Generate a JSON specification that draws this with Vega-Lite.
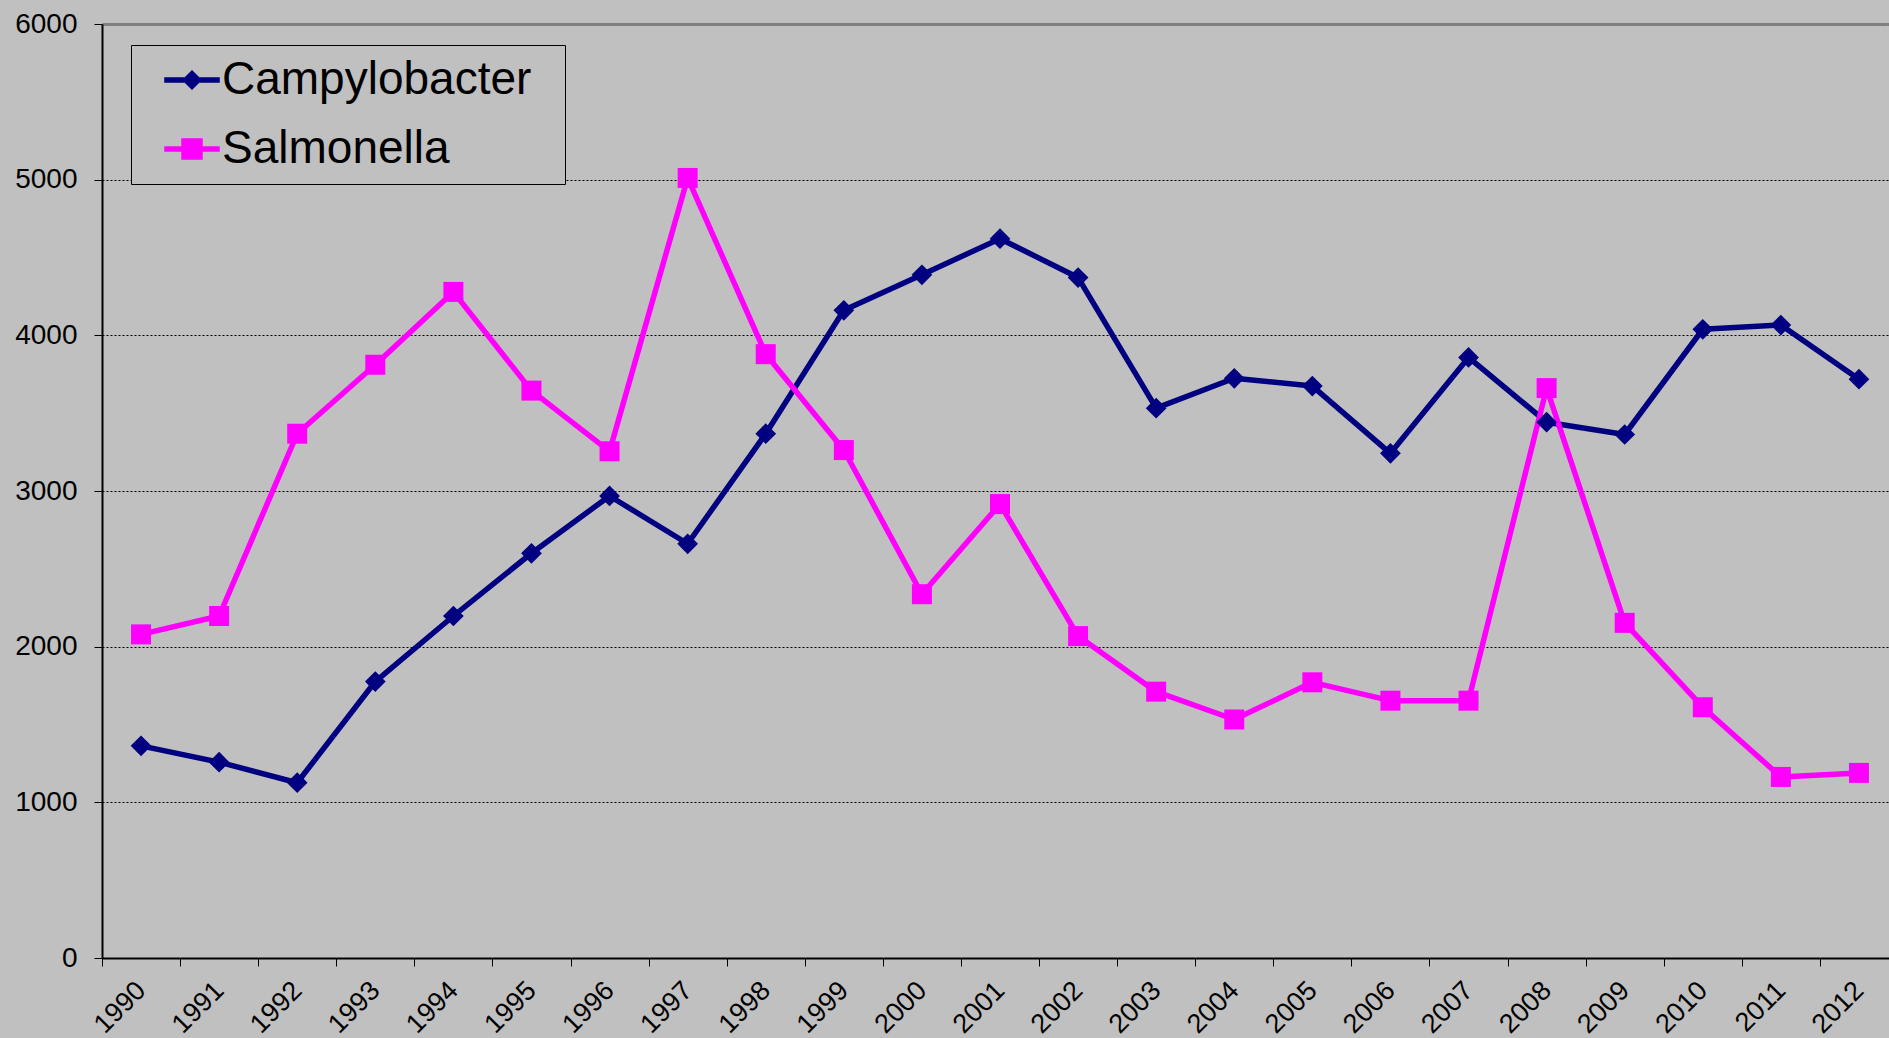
{
  "$schema": "https://vega.github.io/schema/vega-lite/v6.json",
  "width": 1787,
  "height": 934,
  "autosize": {"type": "none"},
  "padding": {"left": 102, "top": 24, "right": 0, "bottom": 80},
  "background": "#C0C0C0",
  "config": {"view": {"stroke": null, "fill": "#C0C0C0"}, "font": "Liberation Sans"},
  "data": {
    "values": [
      {"year": "1990", "series": "Campylobacter", "value": 1363},
      {"year": "1991", "series": "Campylobacter", "value": 1258},
      {"year": "1992", "series": "Campylobacter", "value": 1126},
      {"year": "1993", "series": "Campylobacter", "value": 1776},
      {"year": "1994", "series": "Campylobacter", "value": 2197},
      {"year": "1995", "series": "Campylobacter", "value": 2600},
      {"year": "1996", "series": "Campylobacter", "value": 2968},
      {"year": "1997", "series": "Campylobacter", "value": 2661},
      {"year": "1998", "series": "Campylobacter", "value": 3368},
      {"year": "1999", "series": "Campylobacter", "value": 4161},
      {"year": "2000", "series": "Campylobacter", "value": 4389},
      {"year": "2001", "series": "Campylobacter", "value": 4621},
      {"year": "2002", "series": "Campylobacter", "value": 4371},
      {"year": "2003", "series": "Campylobacter", "value": 3532},
      {"year": "2004", "series": "Campylobacter", "value": 3724},
      {"year": "2005", "series": "Campylobacter", "value": 3674},
      {"year": "2006", "series": "Campylobacter", "value": 3242},
      {"year": "2007", "series": "Campylobacter", "value": 3858},
      {"year": "2008", "series": "Campylobacter", "value": 3442},
      {"year": "2009", "series": "Campylobacter", "value": 3363},
      {"year": "2010", "series": "Campylobacter", "value": 4039},
      {"year": "2011", "series": "Campylobacter", "value": 4066},
      {"year": "2012", "series": "Campylobacter", "value": 3718},
      {"year": "1990", "series": "Salmonella", "value": 2079},
      {"year": "1991", "series": "Salmonella", "value": 2197},
      {"year": "1992", "series": "Salmonella", "value": 3368},
      {"year": "1993", "series": "Salmonella", "value": 3811},
      {"year": "1994", "series": "Salmonella", "value": 4279},
      {"year": "1995", "series": "Salmonella", "value": 3645},
      {"year": "1996", "series": "Salmonella", "value": 3255},
      {"year": "1997", "series": "Salmonella", "value": 5011},
      {"year": "1998", "series": "Salmonella", "value": 3879},
      {"year": "1999", "series": "Salmonella", "value": 3263},
      {"year": "2000", "series": "Salmonella", "value": 2337},
      {"year": "2001", "series": "Salmonella", "value": 2916},
      {"year": "2002", "series": "Salmonella", "value": 2068},
      {"year": "2003", "series": "Salmonella", "value": 1711},
      {"year": "2004", "series": "Salmonella", "value": 1532},
      {"year": "2005", "series": "Salmonella", "value": 1771},
      {"year": "2006", "series": "Salmonella", "value": 1653},
      {"year": "2007", "series": "Salmonella", "value": 1653},
      {"year": "2008", "series": "Salmonella", "value": 3661},
      {"year": "2009", "series": "Salmonella", "value": 2153},
      {"year": "2010", "series": "Salmonella", "value": 1611},
      {"year": "2011", "series": "Salmonella", "value": 1163},
      {"year": "2012", "series": "Salmonella", "value": 1189}
    ]
  },
  "encoding": {
    "x": {
      "field": "year",
      "type": "ordinal",
      "bandPosition": 0.5,
      "scale": {"type": "band", "paddingInner": 0, "paddingOuter": 0, "range": [0, 1796]},
      "axis": {
        "title": null,
        "tickBand": "extent",
        "domainColor": "#000000",
        "domainWidth": 2,
        "tickColor": "#000000",
        "tickSize": 8,
        "tickWidth": 1,
        "labelAngle": -45,
        "labelAlign": "right",
        "labelBaseline": "middle",
        "labelPadding": 20,
        "labelFont": "Liberation Sans",
        "labelFontSize": 27,
        "labelColor": "#000000",
        "labelOverlap": false,
        "grid": false
      }
    },
    "y": {
      "field": "value",
      "type": "quantitative",
      "scale": {"domain": [0, 6000], "nice": false},
      "axis": {
        "title": null,
        "format": "d",
        "values": [0, 1000, 2000, 3000, 4000, 5000, 6000],
        "domainColor": "#000000",
        "domainWidth": 2,
        "tickColor": "#000000",
        "tickSize": 8,
        "tickWidth": 1,
        "labelPadding": 17,
        "labelFont": "Liberation Sans",
        "labelFontSize": 28,
        "labelColor": "#000000",
        "grid": true,
        "gridColor": {"condition": {"test": "datum.value === 6000", "value": "#808080"}, "value": "#000000"},
        "gridWidth": {"condition": {"test": "datum.value === 6000", "value": 3}, "value": 1},
        "gridDash": {"condition": {"test": "datum.value === 6000", "value": [1, 0]}, "value": [2, 2]}
      }
    }
  },
  "layer": [
    {
      "mark": {"type": "line", "strokeWidth": 5.5, "strokeJoin": "round"},
      "encoding": {
        "color": {
          "field": "series",
          "type": "nominal",
          "scale": {"domain": ["Campylobacter", "Salmonella"], "range": ["#000080", "#FF00FF"]}
        }
      }
    },
    {
      "transform": [{"filter": "datum.series === 'Campylobacter'"}],
      "mark": {"type": "point", "shape": "diamond", "filled": true, "opacity": 1, "size": 430, "color": "#000080"}
    },
    {
      "transform": [{"filter": "datum.series === 'Salmonella'"}],
      "mark": {"type": "point", "shape": "square", "filled": true, "opacity": 1, "size": 400, "color": "#FF00FF"}
    },
    {
      "transform": [{"filter": "datum.value < 0"}],
      "mark": {"type": "point", "filled": true, "opacity": 1},
      "encoding": {
        "color": {
          "field": "series",
          "type": "nominal",
          "scale": {"domain": ["Campylobacter", "Salmonella"], "range": ["#000080", "#FF00FF"]},
          "legend": {
            "orient": "none",
            "legendX": 29,
            "legendY": 21,
            "title": ".",
            "titleOrient": "right",
            "titleColor": "#C0C0C0",
            "titleFontSize": 10,
            "titlePadding": 19,
            "fillColor": "#C0C0C0",
            "strokeColor": "#000000",
            "padding": 12,
            "labelFont": "Liberation Sans",
            "labelFontSize": 46,
            "labelColor": "#000000",
            "labelLimit": 1000,
            "symbolSize": 400,
            "symbolOffset": 26,
            "labelOffset": 7,
            "rowPadding": 23
          }
        },
        "shape": {
          "field": "series",
          "type": "nominal",
          "scale": {
            "domain": ["Campylobacter", "Salmonella"],
            "range": [
              "M-2.7,-0.2H2.7V0.2H-2.7Z M0,-0.9L0.9,0L0,0.9L-0.9,0Z",
              "M-2.7,-0.2H2.7V0.2H-2.7Z M-1,-1H1V1H-1Z"
            ]
          },
          "legend": null
        }
      }
    }
  ]
}
